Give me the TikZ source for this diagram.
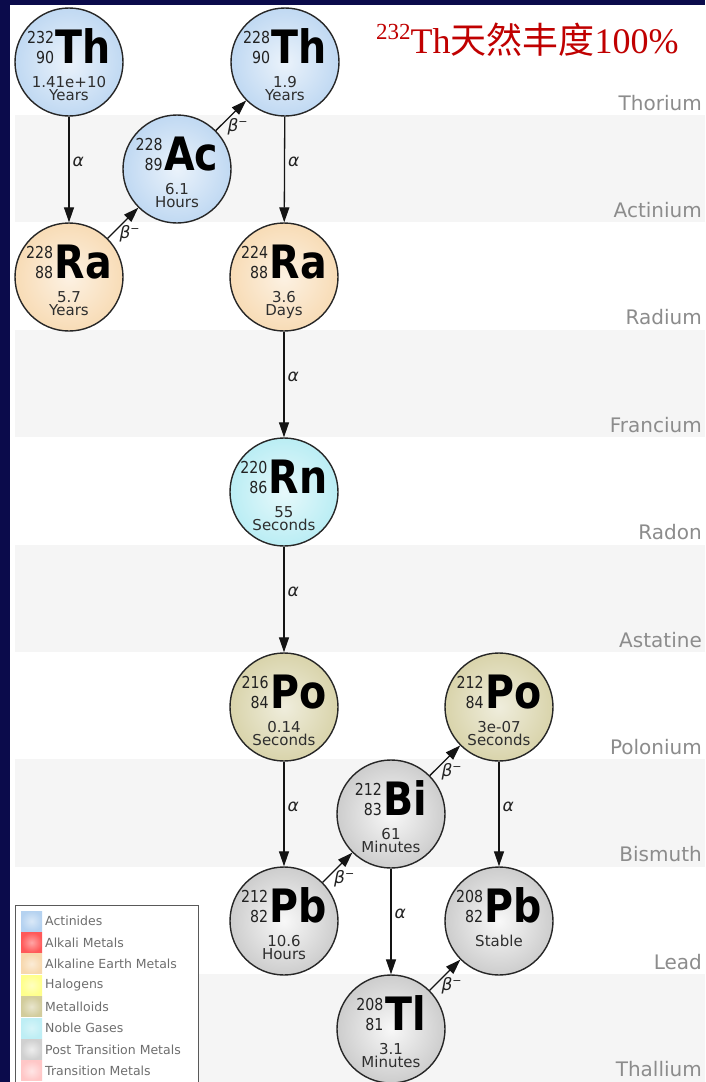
\documentclass[tikz,border=0pt]{standalone}
\usepackage{fontspec}
\setmainfont{DejaVu Sans}
\newfontfamily\titlefont{Liberation Serif}
\newfontfamily\cjkfont{Noto Sans CJK SC}
\newfontfamily\condfont{DejaVu Sans}[FakeStretch=0.86]
\usetikzlibrary{arrows.meta,calc}

\definecolor{navy}{HTML}{0B0B4B}
\definecolor{bandgrey}{HTML}{F5F5F5}
\definecolor{rowtext}{HTML}{8C8C8C}
\definecolor{valcol}{HTML}{2E2E2E}
\definecolor{numcol}{HTML}{222222}
\definecolor{titlered}{HTML}{C00000}
\definecolor{legtextcol}{HTML}{6E6E6E}
\definecolor{actblue}{HTML}{B5D2F0}
\definecolor{alkpeach}{HTML}{F7D8AE}
\definecolor{noblecyan}{HTML}{AEEAF2}
\definecolor{metkhaki}{HTML}{D2CC9C}
\definecolor{postgrey}{HTML}{C4C4C4}

% mass / atomic number stacked left of the element symbol
\newcommand\nucsym[3]{{\condfont\fontsize{16.5}{20}\selectfont\color{numcol}%
  \begin{tabular}[b]{@{}r@{}}#1\\#2\end{tabular}}\hspace{1.5pt}%
  {\condfont\bfseries\fontsize{46}{46}\selectfont #3}}

% one nuclide: name, x, y, style, A, Z, symbol, half-life value, unit
\newcommand\nuclide[9]{%
  \node[nuc,#4] (#1) at (#2,#3) {};
  \node[anchor=base,inner sep=0] (#1-sym) at ($(#1)+(0,1)$) {\nucsym{#5}{#6}{#7}};
  \node[valtext] (#1-val) at ($(#1)+(0,25)$) {#8};
  \node[valtext] (#1-unit) at ($(#1)+(0,38.5)$) {#9};
}

\newcommand\betam{β\raisebox{6pt}{\fontsize{11}{11}\selectfont\upshape −}}

\tikzset{
  nuc/.style={circle,minimum size=108pt,inner sep=0,draw=black!85,line width=1.4pt},
  actinide/.style={inner color=white!72!actblue,outer color=actblue!85!white},
  alkearth/.style={inner color=white!65!alkpeach,outer color=alkpeach!90!white},
  noble/.style={inner color=white!70!noblecyan,outer color=noblecyan!85!white},
  metalloid/.style={inner color=white!65!metkhaki,outer color=metkhaki!85!white},
  posttrans/.style={inner color=white!88!postgrey,outer color=postgrey!85!white},
  valtext/.style={anchor=base,inner sep=0,text=valcol,font=\fontsize{15}{15}\selectfont},
  rowlabel/.style={anchor=base east,inner sep=0,text=rowtext,font=\fontsize{20}{20}\selectfont},
  arr/.style={line width=1.3pt,draw=black!92,-{Triangle[length=15pt,width=10pt]}},
  alphalbl/.style={pos=0.43,anchor=west,xshift=2pt,inner sep=1pt,text=numcol,
    font=\fontsize{17}{17}\selectfont\itshape},
  betalbl/.style={pos=0.3,anchor=west,xshift=1pt,yshift=-5pt,inner sep=1pt,text=numcol,
    font=\fontsize{17}{17}\selectfont\itshape},
  swatch/.style={minimum width=21pt,minimum height=20pt,inner sep=0},
  legtext/.style={anchor=west,inner sep=0,text=legtextcol,font=\fontsize{12.5}{12.5}\selectfont},
}

\begin{document}
\begin{tikzpicture}[x=1pt,y=-1pt]
\useasboundingbox (0,0) rectangle (705,1082);
\fill[white] (0,0) rectangle (705,1082);

% alternating element rows
\foreach \top in {115,329.8,544.6,759.4,974.2}
  \fill[bandgrey] (15,\top) rectangle (705,\top+107.4);

% frame
\fill[navy] (0,0) rectangle (705,5);
\fill[navy] (0,0) rectangle (10,1082);

% row names
\node[rowlabel] (r-th) at (702,110) {Thorium};
\node[rowlabel] (r-ac) at (702,217.4) {Actinium};
\node[rowlabel] (r-ra) at (702,324.8) {Radium};
\node[rowlabel] (r-fr) at (702,432.2) {Francium};
\node[rowlabel] (r-rn) at (702,539.6) {Radon};
\node[rowlabel] (r-at) at (702,647) {Astatine};
\node[rowlabel] (r-po) at (702,754.4) {Polonium};
\node[rowlabel] (r-bi) at (702,861.8) {Bismuth};
\node[rowlabel] (r-pb) at (702,969.2) {Lead};
\node[rowlabel] (r-tl) at (702,1076.6) {Thallium};

% heading
\node[anchor=base west,inner sep=0,text=titlered] (title) at (376,53)
  {\titlefont\fontsize{36}{36}\selectfont\raisebox{14pt}{\fontsize{23}{23}\selectfont 232}Th{\cjkfont 天然丰度}100\%};

% legend
\fill[white] (15,905) rectangle (198,1082);
\draw[black!65,line width=1pt] (15,1082) |- (198,905) -- (198,1082);
\node[swatch,inner color=white!50!actblue,outer color=actblue] (lg1) at (31.5,921) {};
\node[swatch,inner color=red!35!white,outer color=red!65!white] (lg2) at (31.5,942.4) {};
\node[swatch,inner color=white!50!alkpeach,outer color=alkpeach] (lg3) at (31.5,963.8) {};
\node[swatch,inner color=yellow!25!white,outer color=yellow!45!white] (lg4) at (31.5,985.2) {};
\node[swatch,inner color=white!50!metkhaki,outer color=metkhaki] (lg5) at (31.5,1006.6) {};
\node[swatch,inner color=white!50!noblecyan,outer color=noblecyan!80!white] (lg6) at (31.5,1028) {};
\node[swatch,inner color=white!70!postgrey,outer color=postgrey!80!white] (lg7) at (31.5,1049.4) {};
\node[swatch,inner color=red!10!white,outer color=red!22!white] (lg8) at (31.5,1070.8) {};
\node[legtext] (lg1t) at (45,921) {Actinides};
\node[legtext] (lg2t) at (45,942.4) {Alkali Metals};
\node[legtext] (lg3t) at (45,963.8) {Alkaline Earth Metals};
\node[legtext] (lg4t) at (45,985.2) {Halogens};
\node[legtext] (lg5t) at (45,1006.6) {Metalloids};
\node[legtext] (lg6t) at (45,1028) {Noble Gases};
\node[legtext] (lg7t) at (45,1049.4) {Post Transition Metals};
\node[legtext] (lg8t) at (45,1070.8) {Transition Metals};

% nuclides
\nuclide{th232}{69}{62}{actinide}{232}{90}{Th}{1.41e+10}{Years}
\nuclide{th228}{285}{62}{actinide}{228}{90}{Th}{1.9}{Years}
\nuclide{ac228}{177}{169}{actinide}{228}{89}{Ac}{6.1}{Hours}
\nuclide{ra228}{69}{277}{alkearth}{228}{88}{Ra}{5.7}{Years}
\nuclide{ra224}{284}{277}{alkearth}{224}{88}{Ra}{3.6}{Days}
\nuclide{rn220}{284}{492}{noble}{220}{86}{Rn}{55}{Seconds}
\nuclide{po216}{284}{707}{metalloid}{216}{84}{Po}{0.14}{Seconds}
\nuclide{po212}{499}{707}{metalloid}{212}{84}{Po}{3e-07}{Seconds}
\nuclide{bi212}{391}{814}{posttrans}{212}{83}{Bi}{61}{Minutes}
\nuclide{pb212}{284}{921}{posttrans}{212}{82}{Pb}{10.6}{Hours}
\nuclide{pb208}{499}{921}{posttrans}{208}{82}{Pb}{Stable}{}
\nuclide{tl208}{391}{1029}{posttrans}{208}{81}{Tl}{3.1}{Minutes}

% decays
\draw[arr] (th232) -- node[alphalbl] (d1) {α} (ra228);
\draw[arr] (ra228) -- node[betalbl] (d2) {\betam} (ac228);
\draw[arr] (ac228) -- node[betalbl] (d3) {\betam} (th228);
\draw[arr] (th228) -- node[alphalbl] (d4) {α} (ra224);
\draw[arr] (ra224) -- node[alphalbl] (d5) {α} (rn220);
\draw[arr] (rn220) -- node[alphalbl] (d6) {α} (po216);
\draw[arr] (po216) -- node[alphalbl] (d7) {α} (pb212);
\draw[arr] (pb212) -- node[betalbl] (d8) {\betam} (bi212);
\draw[arr] (bi212) -- node[betalbl] (d9) {\betam} (po212);
\draw[arr] (bi212) -- node[alphalbl] (d10) {α} (tl208);
\draw[arr] (po212) -- node[alphalbl] (d11) {α} (pb208);
\draw[arr] (tl208) -- node[betalbl] (d12) {\betam} (pb208);
\end{tikzpicture}
\end{document}
